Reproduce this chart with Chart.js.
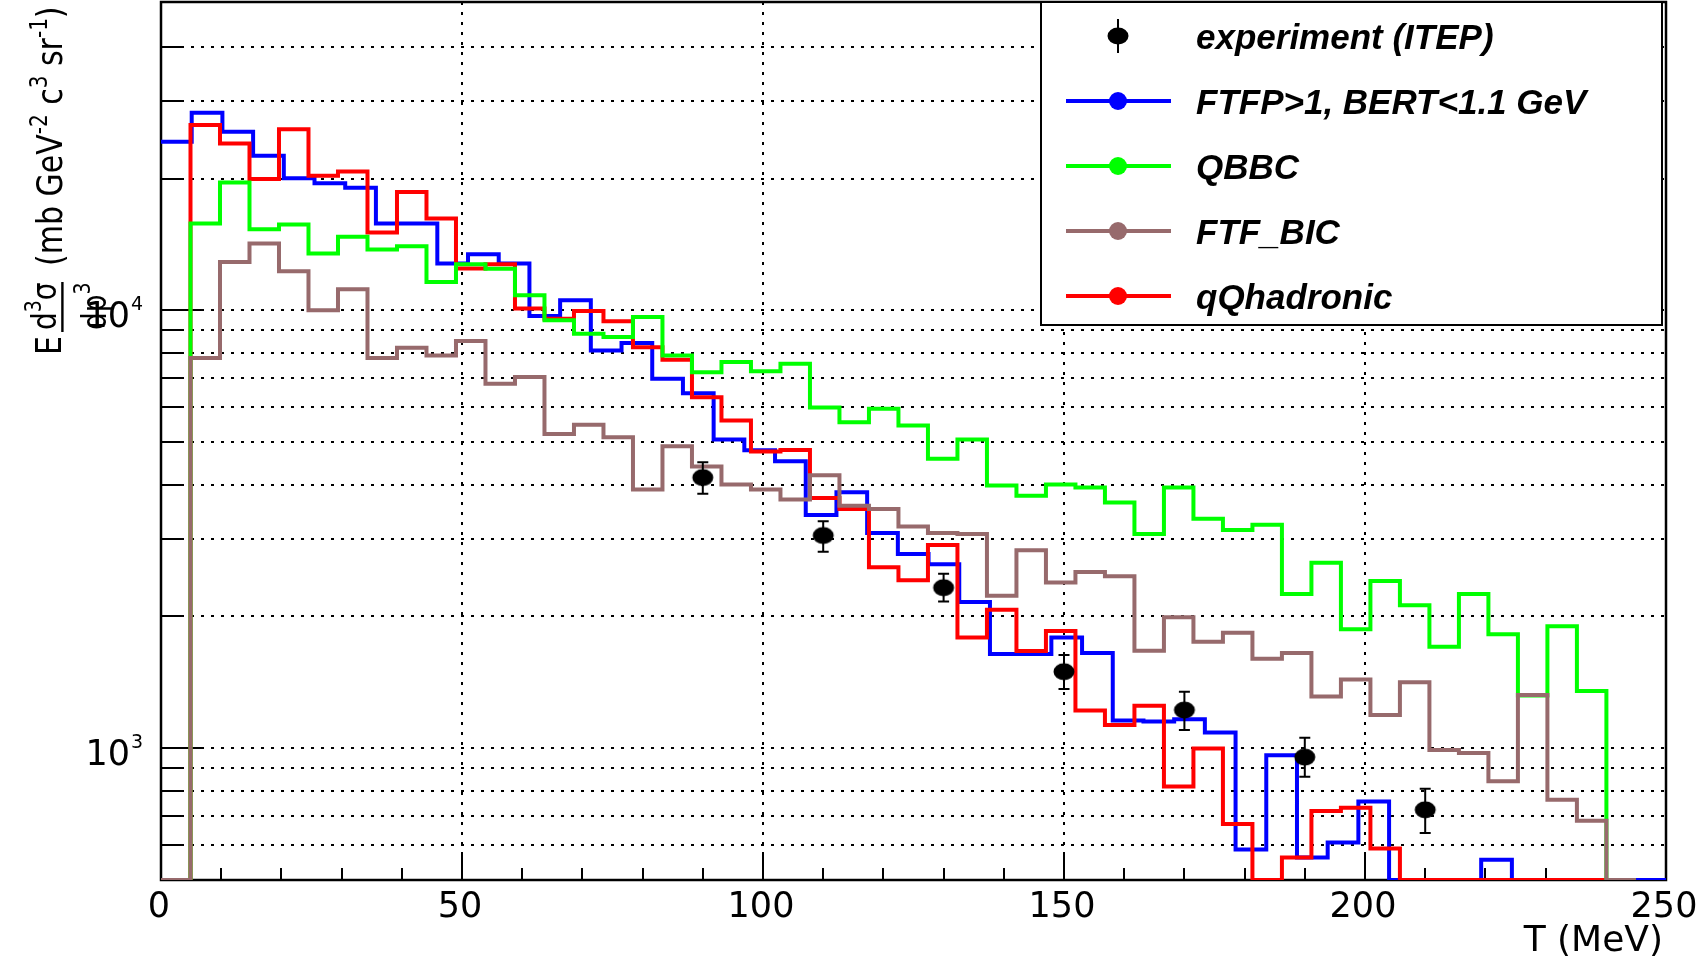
<!DOCTYPE html>
<html>
<head>
<meta charset="utf-8">
<script src="https://cdn.jsdelivr.net/npm/chart.js@4.4.0/dist/chart.umd.min.js"></script>
<style>
html, body { margin: 0; padding: 0; background: #ffffff; }
#chartBox { width: 1697px; height: 959px; position: relative; }
</style>
</head>
<body>
<div id="chartBox"><canvas id="spectrumChart"></canvas></div>
<script>
"use strict";

// bin widths (MeV): the FTFP_BERT histogram has 50 bins over 0-255, the others 50 bins over 0-245
const ftfpBertBinWidth = 5.1;
const otherBinWidth = 4.9;

const ftfpBertValues = [
	24260, 28280, 25590, 22540, 20020, 19500, 19060, 15790, 15790, 12790,
	13430, 12790, 9700, 10540, 8100, 8420, 6975, 6465, 5070, 4790,
	4520, 3410, 3840, 3100, 2775, 2630, 2156, 1640, 1640, 1790,
	1650, 1157, 1150, 1165, 1086, 587, 963, 563, 609, 756,
	0, 0, 0, 556, 0, 0, 0, 0, 0, 0
];
const qbbcValues = [
	0, 15790, 19590, 15320, 15700, 13480, 14720, 13770, 14010, 11610,
	12740, 12450, 10820, 9490, 8840, 8690, 9650, 7890, 7220, 7620,
	7260, 7550, 6000, 5550, 5960, 5460, 4580, 5070, 3980, 3770,
	4000, 3940, 3640, 3085, 3940, 3340, 3150, 3240, 2250, 2650,
	1870, 2410, 2120, 1705, 2250, 1820, 1320, 1900, 1350, 0
];
const ftfBicValues = [
	0, 7780, 12900, 14210, 12280, 10000, 11170, 7780, 8215, 7890,
	8510, 6795, 7040, 5220, 5480, 5130, 3900, 4890, 4400, 4000,
	3900, 3700, 4200, 3580, 3520, 3210, 3100, 3085, 2230, 2830,
	2390, 2525, 2470, 1670, 1990, 1750, 1835, 1600, 1650, 1313,
	1436, 1191, 1415, 990, 975, 840, 1322, 763, 683, 0
];
const qqhadronicValues = [
	0, 26490, 24040, 19940, 25920, 20280, 20760, 15060, 18620, 16210,
	12460, 12740, 10090, 9570, 9960, 9440, 8240, 7710, 6330, 5600,
	4760, 4800, 3725, 3520, 2590, 2420, 2910, 1790, 2070, 1667,
	1852, 1219, 1130, 1250, 818, 998, 671, 0, 563, 719,
	731, 590, 0, 0, 0, 0, 0, 0, 0, 0
];

const experimentEnergies = [90, 110, 130, 150, 170, 190, 210];
const experimentValues = [4150, 3060, 2325, 1495, 1222, 954, 723];
const experimentLow = [3810, 2810, 2163, 1366, 1100, 860, 640];
const experimentHigh = [4500, 3300, 2503, 1633, 1345, 1057, 808];

const seriesNames = ["experiment (ITEP)", "FTFP>1, BERT<1.1 GeV", "QBBC", "FTF_BIC", "qQhadronic"];
const seriesColors = ["#000000", "#0000ff", "#00ff00", "#976a6c", "#ff0000"];

const xMin = 0;
const xMax = 250;
const yMin = 500;
const yMax = 50600;
const xTickStep = 10;
const xLabelValues = [0, 50, 100, 150, 200, 250];
const xGridValues = [50, 100, 150, 200];
const yLabelExponents = [3, 4];
const xTitle = "T (MeV)";

const axisFont = "\"DejaVu Sans\"";
const legendFont = "italic bold 35px \"Liberation Sans\"";

const buildHistogramPoints = (values, binWidth) => {
	let points = [];
	values.forEach((value, binIndex) => {
		// empty bins sit on the bottom of the log axis, like ROOT draws them
		let y = value > 0 ? value : yMin;
		points.push({x: binIndex * binWidth, y: y});
		points.push({x: (binIndex + 1) * binWidth, y: y});
	});
	return points;
};

const buildYTickValues = () => {
	let tickValues = [];
	for (let exponent = 2; exponent <= 4; exponent++) {
		for (let mantissa = 1; mantissa <= 9; mantissa++) {
			let value = mantissa * Math.pow(10, exponent);
			if (value > yMin && value < yMax) {
				tickValues.push({value: value, major: mantissa === 1});
			}
		}
	}
	return tickValues;
};

const markerImage = (() => {
	let canvas = document.createElement("canvas");
	canvas.width = 24;
	canvas.height = 20;
	let ctx = canvas.getContext("2d");
	ctx.fillStyle = "#000000";
	ctx.beginPath();
	ctx.ellipse(12, 10, 10.5, 8.5, 0, 0, 2 * Math.PI);
	ctx.fill();
	return canvas;
})();

const histogramDataset = (label, values, binWidth, color, order) => ({
	label: label,
	data: buildHistogramPoints(values, binWidth),
	borderColor: color,
	backgroundColor: color,
	borderWidth: 4,
	pointRadius: 0,
	tension: 0,
	fill: false,
	order: order,
	borderJoinStyle: "miter",
	borderCapStyle: "butt"
});

const drawRun = (ctx, pieces, start, baseline) => { // text along the rotated y title
	let position = start;
	for (let piece of pieces) {
		ctx.font = `${piece.size}px ${axisFont}`;
		ctx.fillText(piece.text, -position, baseline - piece.raise);
		position -= ctx.measureText(piece.text).width;
	}
};

const drawYTitle = ctx => {
	ctx.save();
	ctx.scale(1.2, 1); // the reference picture is stretched sideways, so is this title
	ctx.rotate(-Math.PI / 2);
	ctx.fillStyle = "#000000";
	ctx.textAlign = "left";
	ctx.textBaseline = "alphabetic";
	drawRun(ctx, [{text: "E", size: 30, raise: 0}], 355, 51);
	drawRun(ctx, [{text: "d", size: 28, raise: 0}, {text: "3", size: 19, raise: 13}, {text: "σ", size: 28, raise: 0}], 330, 47);
	drawRun(ctx, [{text: "dp", size: 28, raise: 0}, {text: "3", size: 19, raise: 13}], 330, 88);
	drawRun(ctx, [
		{text: "(mb GeV", size: 30, raise: 0},
		{text: "-2", size: 20, raise: 13},
		{text: " c", size: 30, raise: 0},
		{text: "3", size: 20, raise: 13},
		{text: " sr", size: 30, raise: 0},
		{text: "-1", size: 20, raise: 13},
		{text: ")", size: 30, raise: 0}
	], 266, 52);
	ctx.fillRect(-332, 51, 50, 2); // fraction bar
	ctx.restore();
};

const drawLegend = (ctx, area) => {
	let box = {left: area.right - 625, top: area.top, width: 621, height: 323};
	ctx.save();
	ctx.fillStyle = "#ffffff";
	ctx.fillRect(box.left, box.top, box.width, box.height);
	ctx.strokeStyle = "#000000";
	ctx.lineWidth = 2;
	ctx.strokeRect(box.left, box.top, box.width, box.height);
	let markerX = box.left + 77;
	seriesNames.forEach((name, entryIndex) => {
		let y = box.top + 34 + entryIndex * 65;
		if (entryIndex === 0) {
			ctx.lineWidth = 2;
			ctx.strokeStyle = seriesColors[0];
			ctx.beginPath();
			ctx.moveTo(markerX, y - 17);
			ctx.lineTo(markerX, y + 17);
			ctx.stroke();
			ctx.drawImage(markerImage, markerX - markerImage.width / 2, y - markerImage.height / 2);
		} else {
			ctx.lineWidth = 4;
			ctx.strokeStyle = seriesColors[entryIndex];
			ctx.beginPath();
			ctx.moveTo(box.left + 25, y);
			ctx.lineTo(box.left + 130, y);
			ctx.stroke();
			ctx.fillStyle = seriesColors[entryIndex];
			ctx.beginPath();
			ctx.arc(markerX, y, 9, 0, 2 * Math.PI);
			ctx.fill();
		}
		ctx.fillStyle = "#000000";
		ctx.font = legendFont;
		ctx.textAlign = "left";
		ctx.textBaseline = "alphabetic";
		ctx.fillText(name, box.left + 155, y + 12.5);
	});
	ctx.restore();
};

const rootStylePlugin = {
	id: "rootStyle",
	beforeDatasetsDraw: chart => {
		let ctx = chart.ctx;
		let area = chart.chartArea;
		let xScale = chart.scales.x;
		let yScale = chart.scales.y;
		let yTicks = buildYTickValues().filter(tick => yScale.getPixelForValue(tick.value) - area.top > 8);
		ctx.save();
		ctx.strokeStyle = "#000000";
		// dotted grid
		ctx.lineWidth = 2;
		ctx.setLineDash([3, 7]);
		ctx.beginPath();
		for (let value of xGridValues) {
			let x = Math.round(xScale.getPixelForValue(value));
			ctx.moveTo(x, area.top);
			ctx.lineTo(x, area.bottom);
		}
		for (let tick of yTicks) {
			let y = Math.round(yScale.getPixelForValue(tick.value));
			ctx.moveTo(area.left, y);
			ctx.lineTo(area.right, y);
		}
		ctx.stroke();
		ctx.setLineDash([]);
		// tick marks point into the frame
		ctx.beginPath();
		for (let value = xMin; value <= xMax; value += xTickStep) {
			let x = Math.round(xScale.getPixelForValue(value));
			let length = value % 50 === 0 ? 27 : 12;
			ctx.moveTo(x, area.bottom);
			ctx.lineTo(x, area.bottom - length);
		}
		for (let tick of yTicks) {
			let y = Math.round(yScale.getPixelForValue(tick.value));
			ctx.moveTo(area.left, y);
			ctx.lineTo(area.left + (tick.major ? 43 : 22), y);
		}
		ctx.stroke();
		ctx.lineWidth = 2.5;
		ctx.strokeRect(area.left, area.top, area.right - area.left, area.bottom - area.top);
		ctx.restore();
	},
	beforeDatasetDraw: (chart, args) => {
		if (chart.data.datasets[args.index].label !== seriesNames[0]) {
			return;
		}
		let ctx = chart.ctx;
		let xScale = chart.scales.x;
		let yScale = chart.scales.y;
		ctx.save();
		ctx.strokeStyle = "#000000";
		ctx.lineWidth = 2;
		ctx.beginPath();
		experimentEnergies.forEach((energy, pointIndex) => {
			let x = xScale.getPixelForValue(energy);
			let yLow = yScale.getPixelForValue(experimentLow[pointIndex]);
			let yHigh = yScale.getPixelForValue(experimentHigh[pointIndex]);
			ctx.moveTo(x, yLow);
			ctx.lineTo(x, yHigh);
			ctx.moveTo(x - 5.5, yLow);
			ctx.lineTo(x + 5.5, yLow);
			ctx.moveTo(x - 5.5, yHigh);
			ctx.lineTo(x + 5.5, yHigh);
		});
		ctx.stroke();
		ctx.restore();
	},
	afterDraw: chart => {
		let ctx = chart.ctx;
		let area = chart.chartArea;
		let xScale = chart.scales.x;
		let yScale = chart.scales.y;
		ctx.save();
		ctx.fillStyle = "#000000";
		ctx.textBaseline = "alphabetic";
		// x labels
		ctx.font = `35px ${axisFont}`;
		ctx.textAlign = "center";
		for (let value of xLabelValues) {
			ctx.fillText(String(value), xScale.getPixelForValue(value) - 2, area.bottom + 37);
		}
		ctx.font = `36px ${axisFont}`;
		ctx.textAlign = "right";
		ctx.fillText(xTitle, area.right - 3, area.bottom + 71);
		// y labels 10^n
		for (let exponent of yLabelExponents) {
			let y = yScale.getPixelForValue(Math.pow(10, exponent));
			ctx.font = `35px ${axisFont}`;
			ctx.textAlign = "right";
			ctx.fillText("10", area.left - 31, y + 16.5);
			ctx.font = `19px ${axisFont}`;
			ctx.textAlign = "left";
			ctx.fillText(String(exponent), area.left - 30, y - 0.5);
		}
		ctx.restore();
		drawYTitle(ctx);
		drawLegend(ctx, area);
	}
};

new Chart(document.querySelector("canvas#spectrumChart"), {
	type: "line",
	data: {
		datasets: [
			{
				label: seriesNames[0],
				data: experimentEnergies.map((energy, pointIndex) => ({x: energy, y: experimentValues[pointIndex]})),
				showLine: false,
				pointStyle: markerImage,
				pointRadius: 10,
				borderWidth: 0,
				order: 0
			},
			histogramDataset(seriesNames[3], ftfBicValues, otherBinWidth, seriesColors[3], 1),
			histogramDataset(seriesNames[2], qbbcValues, otherBinWidth, seriesColors[2], 2),
			histogramDataset(seriesNames[4], qqhadronicValues, otherBinWidth, seriesColors[4], 3),
			histogramDataset(seriesNames[1], ftfpBertValues, ftfpBertBinWidth, seriesColors[1], 4)
		]
	},
	options: {
		responsive: true,
		maintainAspectRatio: false,
		animation: false,
		events: [],
		layout: {
			autoPadding: false,
			padding: {top: 2, right: 31, left: 0, bottom: 0}
		},
		scales: {
			x: {
				type: "linear",
				min: xMin,
				max: xMax,
				grid: {display: false},
				border: {display: false},
				ticks: {display: false},
				afterFit: scale => { scale.height = 79; }
			},
			y: {
				type: "logarithmic",
				min: yMin,
				max: yMax,
				grid: {display: false},
				border: {display: false},
				ticks: {display: false},
				afterFit: scale => { scale.width = 161; }
			}
		},
		plugins: {
			legend: {display: false},
			tooltip: {enabled: false}
		}
	},
	plugins: [rootStylePlugin]
});
</script>
</body>
</html>
